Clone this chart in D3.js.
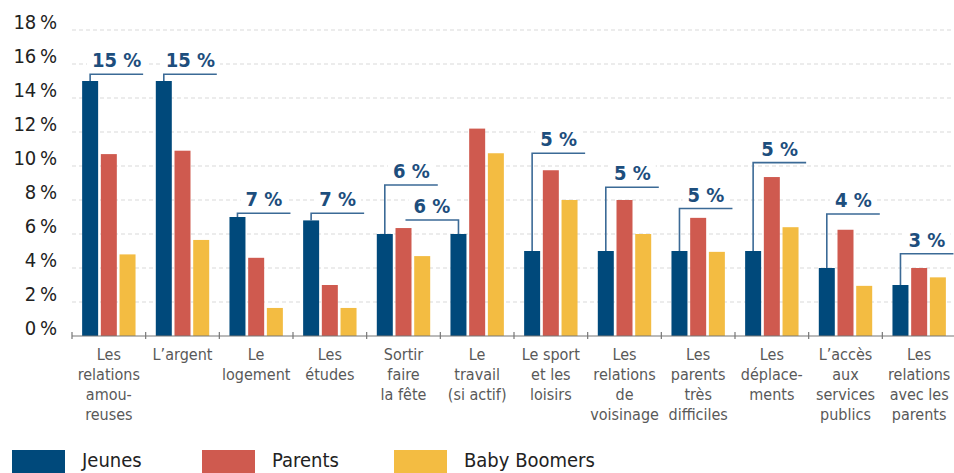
<!DOCTYPE html>
<html>
<head>
<meta charset="utf-8">
<script src="https://cdn.jsdelivr.net/npm/d3@7"></script>
<style>
  body { margin: 0; background: #fff; }
  svg { display: block; }
</style>
</head>
<body>
<svg id="chart" width="954" height="473"></svg>
<script>
// Chart data
const categories = [
  ['Les', 'relations', 'amou-', 'reuses'],
  ['L’argent'],
  ['Le', 'logement'],
  ['Les', 'études'],
  ['Sortir', 'faire', 'la fête'],
  ['Le', 'travail', '(si actif)'],
  ['Le sport', 'et les', 'loisirs'],
  ['Les', 'relations', 'de', 'voisinage'],
  ['Les', 'parents', 'très', 'difficiles'],
  ['Les', 'déplace-', 'ments'],
  ['L’accès', 'aux', 'services', 'publics'],
  ['Les', 'relations', 'avec les', 'parents']
];
const series = ['Jeunes', 'Parents', 'Baby Boomers'];
const jeunes = [15, 15, 7, 6.8, 6, 6, 5, 5, 5, 5, 4, 3];
const parents = [10.7, 10.9, 4.6, 3, 6.35, 12.2, 9.75, 8, 6.95, 9.35, 6.25, 4];
const babyBoomers = [4.8, 5.65, 1.65, 1.65, 4.7, 10.75, 8, 6, 4.95, 6.4, 2.95, 3.45];
// Callout labels for the Jeunes value, with the level (in %) of their bracket
const calloutLabels = ['15 %', '15 %', '7 %', '7 %', '6 %', '6 %', '5 %', '5 %', '5 %', '5 %', '4 %', '3 %'];
const calloutLevels = [15.4, 15.4, 7.22, 7.22, 8.88, 6.82, 10.75, 8.75, 7.5, 10.2, 7.18, 4.84];
const calloutSides = ['r', 'r', 'r', 'r', 'r', 'l', 'r', 'r', 'r', 'r', 'r', 'r'];
const yTicks = [0, 2, 4, 6, 8, 10, 12, 14, 16, 18];

const COLORS = ['#00497b', '#cf5a4f', '#f3bc42'];
const FONT = '"Liberation Sans Narrow", "DejaVu Sans Condensed", "Roboto", sans-serif';

const svg = d3.select('#chart');
const margin = { top: 30, left: 72, right: -2, bottom: 137 };
const width = 954 - margin.left - margin.right;
const height = 473 - margin.top - margin.bottom;

const g = svg.append('g').attr('transform', `translate(${margin.left},${margin.top})`);

const x = d3.scaleBand().domain(d3.range(categories.length)).range([0, width]);
const y = d3.scaleLinear().domain([0, 18]).range([height, 0]);
const barW = 16;
const barStep = 18.7;

// Gridlines
g.append('g')
  .selectAll('line')
  .data(yTicks.filter((d) => d > 0))
  .join('line')
  .attr('x1', 0)
  .attr('x2', width)
  .attr('y1', (d) => y(d))
  .attr('y2', (d) => y(d))
  .attr('stroke', '#d9d9d9')
  .attr('stroke-width', 1)
  .attr('stroke-dasharray', '4,3');

// Y tick labels
g.append('g')
  .selectAll('text')
  .data(yTicks)
  .join('text')
  .attr('x', -15)
  .attr('y', (d) => y(d) - 1)
  .attr('text-anchor', 'end')
  .style('font-family', FONT)
  .style('font-size', '20px')
  .style('fill', '#222')
  .text((d) => `${d}\u2009%`);

// Bars
const values = [jeunes, parents, babyBoomers];
const groups = g.append('g')
  .selectAll('g')
  .data(categories.map((c, i) => i))
  .join('g')
  .attr('transform', (i) => `translate(${x(i) + x.bandwidth() / 2 - barStep - barW / 2},0)`);

groups.selectAll('rect')
  .data((i) => values.map((s, k) => ({ k, v: s[i] })))
  .join('rect')
  .attr('x', (d) => d.k * barStep)
  .attr('width', barW)
  .attr('y', (d) => y(d.v))
  .attr('height', (d) => height - y(d.v))
  .attr('fill', (d) => COLORS[d.k]);

// Axis
g.append('line')
  .attr('x1', 0).attr('x2', width)
  .attr('y1', height).attr('y2', height)
  .attr('stroke', '#777').attr('stroke-width', 1.2);
g.append('g')
  .selectAll('line')
  .data(d3.range(categories.length + 1))
  .join('line')
  .attr('x1', (i) => i * x.step())
  .attr('x2', (i) => i * x.step())
  .attr('y1', height - 4)
  .attr('y2', height + 3)
  .attr('stroke', '#777').attr('stroke-width', 1.2);

// Category labels
g.append('g')
  .selectAll('text')
  .data(categories)
  .join('text')
  .attr('transform', (d, i) => `translate(${x(i) + x.bandwidth() / 2},${height + 24})`)
  .attr('text-anchor', 'middle')
  .style('font-family', FONT)
  .style('font-size', '16px')
  .style('fill', '#595959')
  .selectAll('tspan')
  .data((d) => d)
  .join('tspan')
  .attr('x', 0)
  .attr('dy', (d, j) => (j === 0 ? 0 : 20))
  .text((d) => d);

// Callouts
const callouts = g.append('g');
categories.forEach((c, i) => {
  const cx = x(i) + x.bandwidth() / 2 - barStep;
  const top = y(jeunes[i]);
  const ly = y(calloutLevels[i]);
  const len = 53;
  const x2 = calloutSides[i] === 'r' ? cx + len : cx - len;
  const mid = (cx + x2) / 2;

  const label = callouts.append('text')
    .attr('x', mid)
    .attr('y', ly - 7)
    .attr('text-anchor', 'middle')
    .style('font-family', FONT)
    .style('font-size', '20px')
    .style('font-weight', 'bold')
    .style('fill', '#1d4e7d')
    .text(calloutLabels[i]);
  const bb = label.node().getBBox();
  callouts.insert('rect', 'text')
    .attr('x', bb.x - 5).attr('y', bb.y)
    .attr('width', bb.width + 10).attr('height', bb.height)
    .attr('fill', '#fff');

  callouts.append('path')
    .attr('d', `M${cx},${top}V${ly}H${x2}`)
    .attr('fill', 'none')
    .attr('stroke', '#3b6a96')
    .attr('stroke-width', 1.6);
});

// Legend
const legendX = [12, 202, 394];
const legend = svg.append('g')
  .selectAll('g')
  .data(series)
  .join('g')
  .attr('transform', (d, i) => `translate(${legendX[i]},450)`);
legend.append('rect')
  .attr('width', 53).attr('height', 24)
  .attr('fill', (d, i) => COLORS[i]);
legend.append('text')
  .attr('x', 70).attr('y', 17)
  .style('font-family', FONT)
  .style('font-size', '20px')
  .style('fill', '#222')
  .text((d) => d);
</script>
</body>
</html>
